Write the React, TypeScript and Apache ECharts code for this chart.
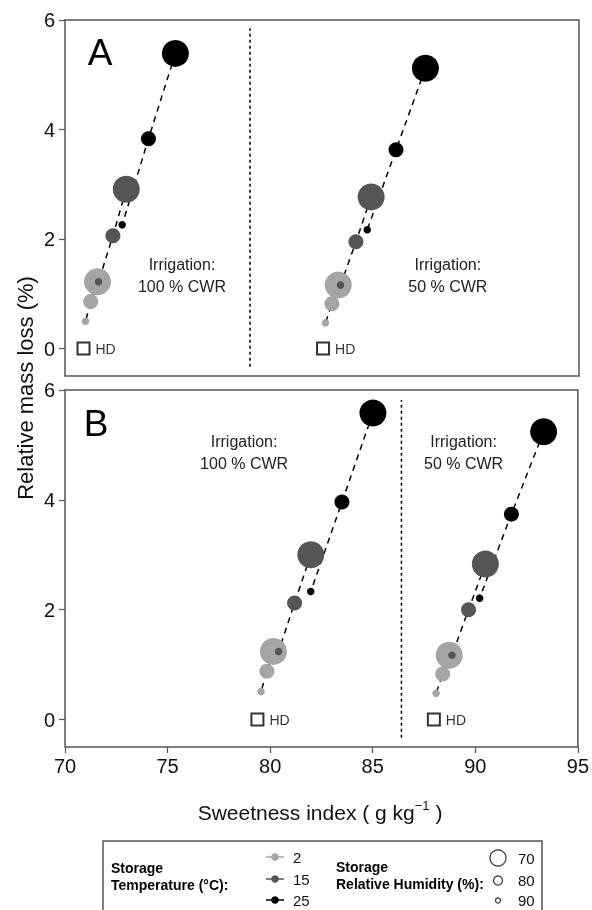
import React, { useEffect, useRef } from 'react';
import * as echarts from 'echarts';

// ---------- data ----------
const temperatures = [2, 15, 25];
const humidities = [70, 80, 90];
const xTickMin = 70;
const xTickMax = 95;
const xTickStep = 5;
const yTickValues = [0, 2, 4, 6];

// order: T2(RH70,80,90), T15(RH70,80,90), T25(RH70,80,90)
const sweetA100 = [71.58, 71.25, 71.0, 72.98, 72.33, 71.63, 75.37, 74.06, 72.78];
const massA100 = [1.22, 0.86, 0.5, 2.91, 2.06, 1.22, 5.39, 3.83, 2.26];
const sweetA50 = [83.29, 82.98, 82.67, 84.89, 84.15, 83.4, 87.53, 86.1, 84.7];
const massA50 = [1.16, 0.82, 0.47, 2.77, 1.95, 1.16, 5.12, 3.63, 2.17];
const sweetB100 = [80.16, 79.84, 79.56, 81.98, 81.19, 80.41, 85.01, 83.5, 81.98];
const massB100 = [1.24, 0.88, 0.51, 3.0, 2.12, 1.24, 5.58, 3.96, 2.33];
const sweetB50 = [88.73, 88.41, 88.09, 90.49, 89.67, 88.86, 93.33, 91.76, 90.21];
const massB50 = [1.17, 0.83, 0.48, 2.83, 2.0, 1.17, 5.24, 3.74, 2.21];

// harvest day (HD) reference points [sweetness, mass loss]
const hdA100 = [70.9, 0];
const hdA50 = [82.55, 0];
const hdB100 = [79.38, 0];
const hdB50 = [87.98, 0];

// irrigation divider positions (sweetness index)
const dividerA = 79.0;
const dividerB = 86.4;

// ---------- styles ----------
const FONT = '"Liberation Sans", Arial, Helvetica, sans-serif';
const tempColors = ['#a5a5a5', '#555555', '#000000'];
const rhSizes = [27, 15, 7.5];
const frame = '#555555';

// annotation anchors (data coordinates) per panel
const notes = [
  { grid: 0, text: 'Irrigation:\n100 % CWR', at: [75.69, 1.33] },
  { grid: 0, text: 'Irrigation:\n50 % CWR', at: [88.62, 1.33] },
  { grid: 1, text: 'Irrigation:\n100 % CWR', at: [78.73, 4.87] },
  { grid: 1, text: 'Irrigation:\n50 % CWR', at: [89.43, 4.87] },
];

function groupSeries(grid: number, xs: number[], ys: number[], hd: number[]) {
  const out: any[] = [];
  temperatures.forEach((t, ti) => {
    out.push({
      type: 'line',
      xAxisIndex: grid,
      yAxisIndex: grid,
      z: 2,
      showSymbol: false,
      silent: true,
      lineStyle: { color: '#000', width: 1.5, type: [6, 5] },
      data: humidities.map((_, hi) => [xs[ti * 3 + hi], ys[ti * 3 + hi]]),
    });
  });
  temperatures.forEach((t, ti) => {
    out.push({
      type: 'scatter',
      name: `${t} °C`,
      xAxisIndex: grid,
      yAxisIndex: grid,
      z: 3 + ti,
      itemStyle: { color: tempColors[ti], opacity: 1 },
      data: humidities.map((rh, hi) => ({ value: [xs[ti * 3 + hi], ys[ti * 3 + hi]], symbolSize: rhSizes[hi] })),
    });
  });
  out.push({
    type: 'scatter',
    xAxisIndex: grid,
    yAxisIndex: grid,
    z: 6,
    symbol: 'rect',
    symbolSize: 12,
    itemStyle: { color: '#fff', borderColor: '#000', borderWidth: 2 },
    label: { show: true, position: 'right', distance: 5, formatter: 'HD', fontSize: 14, color: '#000', fontFamily: FONT },
    data: [hd],
  });
  return out;
}

function divider(grid: number, x: number, y0: number, y1: number) {
  return {
    type: 'line',
    xAxisIndex: grid,
    yAxisIndex: grid,
    showSymbol: false,
    silent: true,
    z: 1,
    lineStyle: { color: '#000', width: 1.5, type: [3, 3] },
    data: [[x, y0], [x, y1]],
  };
}

function xAxisDef(grid: number, showLabels: boolean) {
  return {
    type: 'value',
    gridIndex: grid,
    min: xTickMin,
    max: xTickMax,
    interval: xTickStep,
    axisLine: { show: false, onZero: false },
    axisTick: { show: showLabels, length: 6, lineStyle: { color: frame, width: 1.2 } },
    axisLabel: { show: showLabels, fontSize: 20, color: '#111', margin: 9, fontFamily: FONT },
    splitLine: { show: false },
  };
}

function yAxisDef(grid: number) {
  return {
    type: 'value',
    gridIndex: grid,
    min: -0.5,
    max: 6,
    axisLine: { show: false, onZero: false },
    axisTick: { show: true, length: 6, customValues: yTickValues, lineStyle: { color: frame, width: 1.2 } },
    axisLabel: { show: true, fontSize: 20, color: '#111', margin: 10, customValues: yTickValues, fontFamily: FONT },
    splitLine: { show: false },
  };
}

export default function App() {
  const ref = useRef<HTMLDivElement>(null);
  useEffect(() => {
    if (!ref.current) return;
    const chart = echarts.init(ref.current, undefined, { renderer: 'svg' });
    const legendGraphics: any[] = [
      { type: 'rect', shape: { x: 103, y: 841, width: 439, height: 90 }, style: { fill: 'none', stroke: frame, lineWidth: 1.5 } },
      { type: 'text', x: 111, y: 868, style: { text: 'Storage', fontSize: 14, fontWeight: 'bold', fontFamily: FONT, fill: '#000', textVerticalAlign: 'middle' } },
      { type: 'text', x: 111, y: 885, style: { text: 'Temperature (°C):', fontSize: 14, fontWeight: 'bold', fontFamily: FONT, fill: '#000', textVerticalAlign: 'middle' } },
      { type: 'text', x: 336, y: 867, style: { text: 'Storage', fontSize: 14, fontWeight: 'bold', fontFamily: FONT, fill: '#000', textVerticalAlign: 'middle' } },
      { type: 'text', x: 336, y: 884, style: { text: 'Relative Humidity (%):', fontSize: 14, fontWeight: 'bold', fontFamily: FONT, fill: '#000', textVerticalAlign: 'middle' } },
    ];
    const tempRows = [857, 879, 900];
    temperatures.forEach((t, i) => {
      legendGraphics.push({ type: 'line', shape: { x1: 266, y1: tempRows[i], x2: 284, y2: tempRows[i] }, style: { stroke: tempColors[i], lineWidth: 1.5 } });
      legendGraphics.push({ type: 'circle', shape: { cx: 275, cy: tempRows[i], r: 3.8 }, style: { fill: tempColors[i] } });
      legendGraphics.push({ type: 'text', x: 293, y: tempRows[i], style: { text: String(t), fontSize: 15, fontFamily: FONT, fill: '#111', textVerticalAlign: 'middle' } });
    });
    const rhRows = [858, 880.5, 900.5];
    const rhR = [8, 4.5, 2.5];
    humidities.forEach((h, i) => {
      legendGraphics.push({ type: 'circle', shape: { cx: 498, cy: rhRows[i], r: rhR[i] }, style: { fill: '#fff', stroke: '#333', lineWidth: 1.2 } });
      legendGraphics.push({ type: 'text', x: 518, y: rhRows[i], style: { text: String(h), fontSize: 15, fontFamily: FONT, fill: '#111', textVerticalAlign: 'middle' } });
    });

    const baseGraphics: any[] = [
      { type: 'text', x: 100, y: 52, style: { text: 'A', fontSize: 37, fontFamily: FONT, fill: '#000', textAlign: 'center', textVerticalAlign: 'middle' } },
      { type: 'text', x: 96, y: 423, style: { text: 'B', fontSize: 37, fontFamily: FONT, fill: '#000', textAlign: 'center', textVerticalAlign: 'middle' } },
      { type: 'text', x: 25, y: 388, rotation: Math.PI / 2, style: { text: 'Relative mass loss (%)', fontSize: 22, fontFamily: FONT, fill: '#111', textAlign: 'center', textVerticalAlign: 'middle' } },
      {
        type: 'text', x: 320, y: 812,
        style: {
          text: '{a|Sweetness index ( g kg}{s|−1}{a| )}',
          textAlign: 'center', textVerticalAlign: 'middle', fill: '#111',
          rich: {
            a: { fontSize: 21, fontFamily: FONT, fill: '#111', lineHeight: 26 },
            s: { fontSize: 13, fontFamily: FONT, fill: '#111', verticalAlign: 'top', lineHeight: 26 },
          },
        },
      },
      ...legendGraphics,
    ];

    chart.setOption({
      animation: false,
      textStyle: { fontFamily: FONT },
      grid: [
        { left: 65, top: 20, width: 514, height: 356, show: true, borderColor: frame, borderWidth: 1.5, backgroundColor: 'transparent' },
        { left: 65, top: 390, width: 514, height: 357, show: true, borderColor: frame, borderWidth: 1.5, backgroundColor: 'transparent' },
      ],
      xAxis: [xAxisDef(0, false), xAxisDef(1, true)],
      yAxis: [yAxisDef(0), yAxisDef(1)],
      series: [
        divider(0, dividerA, -0.33, 5.85),
        divider(1, dividerB, -0.33, 5.82),
        ...groupSeries(0, sweetA100, massA100, hdA100),
        ...groupSeries(0, sweetA50, massA50, hdA50),
        ...groupSeries(1, sweetB100, massB100, hdB100),
        ...groupSeries(1, sweetB50, massB50, hdB50),
      ],
      graphic: baseGraphics,
    });

    const noteGraphics = notes.map((n) => {
      const p = chart.convertToPixel({ gridIndex: n.grid }, n.at) as number[];
      return {
        type: 'text', x: p[0], y: p[1],
        style: { text: n.text, fontSize: 16, lineHeight: 22, fontFamily: FONT, fill: '#222', textAlign: 'center', textVerticalAlign: 'middle' },
      };
    });
    chart.setOption({ graphic: [...baseGraphics, ...noteGraphics] });
    return () => chart.dispose();
  }, []);
  return <div ref={ref} style={{ position: 'fixed', left: 0, top: 0, width: 592, height: 910 }} />;
}
